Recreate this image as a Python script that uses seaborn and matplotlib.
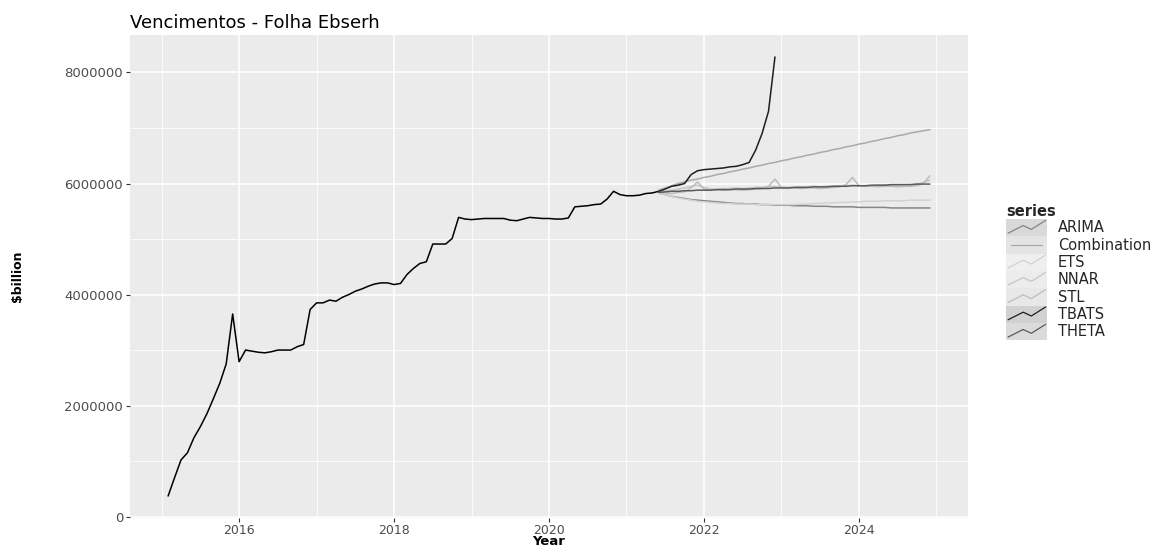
import numpy as np
import pandas as pd
import matplotlib
matplotlib.use("Agg")
import matplotlib.pyplot as plt
import seaborn as sns
from matplotlib.ticker import FixedLocator, FuncFormatter
from matplotlib.legend_handler import HandlerBase
from matplotlib.patches import Rectangle
from matplotlib.lines import Line2D

# Observed series, monthly from Feb 2015 to Jun 2021 (millions)
hist_start = 2015 + 1 / 12
hist_vals = [
    0.37, 0.70, 1.02, 1.15, 1.42, 1.62, 1.85, 2.12, 2.40, 2.75, 3.65,
    2.79, 3.00, 2.98, 2.96, 2.95, 2.97, 3.00, 3.00, 3.00, 3.06, 3.10, 3.73,
    3.85, 3.85, 3.90, 3.88, 3.95, 4.00, 4.06, 4.10, 4.15, 4.19, 4.21, 4.21,
    4.18, 4.20, 4.36, 4.47, 4.56, 4.59, 4.91, 4.91, 4.91, 5.01, 5.39, 5.36,
    5.35, 5.36, 5.37, 5.37, 5.37, 5.37, 5.34, 5.33, 5.36, 5.39, 5.38, 5.37,
    5.37, 5.36, 5.36, 5.38, 5.58, 5.59, 5.60, 5.62, 5.63, 5.72, 5.86, 5.80,
    5.78, 5.78, 5.79, 5.82, 5.83, 5.86,
]

# Forecasts, monthly from Jun 2021 to Dec 2024 (millions)
fc_start = 2021 + 5 / 12
arima = [5.83, 5.80, 5.77, 5.75, 5.73, 5.71, 5.70, 5.69, 5.68, 5.67, 5.66, 5.65,
         5.64, 5.64, 5.63, 5.63, 5.62, 5.62, 5.61, 5.61, 5.61, 5.60, 5.60, 5.60,
         5.59, 5.59, 5.59, 5.58, 5.58, 5.58, 5.58, 5.57, 5.57, 5.57, 5.57, 5.57,
         5.56, 5.56, 5.56, 5.56, 5.56, 5.56, 5.56]
combination = [5.88, 5.92, 5.96, 6.00, 6.03, 6.06, 6.08, 6.11, 6.13, 6.16, 6.18, 6.21,
               6.23, 6.26, 6.28, 6.31, 6.33, 6.36, 6.38, 6.41, 6.43, 6.46, 6.48, 6.51,
               6.53, 6.56, 6.58, 6.61, 6.63, 6.66, 6.68, 6.71, 6.73, 6.76, 6.78, 6.81,
               6.83, 6.86, 6.88, 6.91, 6.93, 6.95, 6.97]
ets = [5.83, 5.80, 5.77, 5.74, 5.72, 5.70, 5.68, 5.67, 5.66, 5.65, 5.64, 5.64,
       5.63, 5.63, 5.63, 5.62, 5.62, 5.62, 5.62, 5.62, 5.62, 5.62, 5.63, 5.63,
       5.64, 5.64, 5.65, 5.65, 5.66, 5.66, 5.67, 5.67, 5.68, 5.68, 5.68, 5.69,
       5.69, 5.69, 5.69, 5.70, 5.70, 5.70, 5.70]
nnar = [5.85, 5.86, 5.88, 5.90, 5.92, 5.95, 5.97, 5.93, 5.90, 5.90, 5.91, 5.91,
        5.92, 5.91, 5.92, 5.93, 5.93, 5.94, 5.95, 5.93, 5.93, 5.93, 5.94, 5.94,
        5.95, 5.94, 5.95, 5.95, 5.96, 5.96, 5.97, 5.96, 5.96, 5.96, 5.97, 5.97,
        5.97, 5.97, 5.98, 5.98, 5.99, 6.02, 6.06]
stl = [5.84, 5.83, 5.82, 5.84, 5.85, 5.92, 6.03, 5.90, 5.89, 5.89, 5.88, 5.89,
       5.89, 5.88, 5.89, 5.90, 5.91, 5.95, 6.08, 5.93, 5.92, 5.92, 5.91, 5.92,
       5.92, 5.91, 5.92, 5.93, 5.94, 5.98, 6.11, 5.96, 5.95, 5.95, 5.94, 5.95,
       5.95, 5.94, 5.95, 5.95, 5.96, 6.00, 6.14]
tbats = [5.86, 5.90, 5.95, 5.97, 6.00, 6.16, 6.23, 6.25, 6.26, 6.27, 6.28, 6.30,
         6.31, 6.34, 6.38, 6.60, 6.90, 7.30, 8.28]
theta = [5.84, 5.85, 5.86, 5.86, 5.87, 5.87, 5.88, 5.88, 5.88, 5.89, 5.89, 5.89,
         5.90, 5.90, 5.90, 5.91, 5.91, 5.91, 5.92, 5.92, 5.92, 5.93, 5.93, 5.93,
         5.94, 5.94, 5.94, 5.95, 5.95, 5.95, 5.96, 5.96, 5.96, 5.97, 5.97, 5.97,
         5.98, 5.98, 5.98, 5.98, 5.99, 5.99, 5.99]

series_names = ["ARIMA", "Combination", "ETS", "NNAR", "STL", "TBATS", "THETA"]
series_vals = [arima, combination, ets, nnar, stl, tbats, theta]
line_colors = ["#858585", "#a9a9a9", "#d2d2d2", "#c6c6c6", "#bdbdbd", "#1e1e1e", "#5a5a5a"]
key_fills = ["#d9d9d9", "#e4e4e4", "#efefef", "#ececec", "#e8e8e8", "#d1d1d1", "#dbdbdb"]

# Build frames
hist = pd.DataFrame({
    "year": hist_start + np.arange(len(hist_vals)) / 12,
    "value": np.array(hist_vals) * 1e6,
})
rows = []
for name, vals in zip(series_names, series_vals):
    for i, v in enumerate(vals):
        rows.append((fc_start + i / 12, v * 1e6, name))
fc = pd.DataFrame(rows, columns=["year", "value", "series"])

# Style
sns.set_theme(style="darkgrid", rc={
    "axes.facecolor": "#EBEBEB",
    "grid.color": "white",
    "figure.facecolor": "white",
})
plt.rcParams["font.family"] = ["DejaVu Sans"]

fig = plt.figure(figsize=(11.74, 5.47), dpi=100)
ax = fig.add_axes([130 / 1174, 1 - 518 / 547, 838 / 1174, 483 / 547])

sns.lineplot(data=hist, x="year", y="value", color="black", lw=1.1, ax=ax, estimator=None)
sns.lineplot(data=fc, x="year", y="value", hue="series", hue_order=series_names,
             palette=dict(zip(series_names, line_colors)), lw=1.1, ax=ax,
             estimator=None, legend=False)

ax.margins(x=0.05, y=0.05)
for s in ax.spines.values():
    s.set_visible(False)

ax.xaxis.set_major_locator(FixedLocator([2016, 2018, 2020, 2022, 2024]))
ax.xaxis.set_minor_locator(FixedLocator([2015, 2017, 2019, 2021, 2023, 2025]))
ax.yaxis.set_major_locator(FixedLocator([0, 2e6, 4e6, 6e6, 8e6]))
ax.yaxis.set_minor_locator(FixedLocator([1e6, 3e6, 5e6, 7e6]))
ax.xaxis.set_major_formatter(FuncFormatter(lambda v, p: f"{int(round(v))}"))
ax.yaxis.set_major_formatter(FuncFormatter(lambda v, p: f"{int(round(v))}"))
ax.grid(which="major", color="white", lw=1.1)
ax.grid(which="minor", color="white", lw=0.55)
ax.tick_params(which="major", length=3, width=0.8, color="#333333",
               labelcolor="#4D4D4D", labelsize=9.5, pad=2,
               bottom=True, left=True)
ax.tick_params(axis="x", which="major", labelsize=9, pad=1.5)
ax.tick_params(which="minor", length=0)

ax.set_xlabel("Year", fontsize=9.5, fontweight="bold", color="black")
ax.set_ylabel(r"\$billion", fontsize=9, fontweight="bold", color="black")
ax.xaxis.set_label_coords(0.5, -0.036)
ax.yaxis.set_label_coords(-0.126, 0.5)
ax.set_title("Vencimentos - Folha Ebserh", loc="left", fontsize=13, pad=5, color="black")


class KeyHandler(HandlerBase):
    def __init__(self, fill, zigzag):
        super().__init__()
        self.fill = fill
        self.zigzag = zigzag

    def create_artists(self, legend, orig_handle, xdescent, ydescent,
                       width, height, fontsize, trans):
        x0, y0 = -xdescent, -ydescent
        rect = Rectangle((x0, y0), width, height, facecolor=self.fill,
                         edgecolor="none", transform=trans)
        if self.zigzag:
            fx = np.array([0.05, 0.42, 0.62, 0.97])
            fy = np.array([0.18, 0.62, 0.40, 0.92])
        else:
            fx = np.array([0.12, 0.88])
            fy = np.array([0.5, 0.5])
        line = Line2D(x0 + fx * width, y0 + fy * height,
                      color=orig_handle.get_color(), lw=0.9, transform=trans)
        return [rect, line]


handles = [Line2D([], [], color=c) for c in line_colors]
hmap = {h: KeyHandler(f, name != "Combination")
        for h, f, name in zip(handles, key_fills, series_names)}
leg = fig.legend(handles, series_names, handler_map=hmap,
                 loc="upper left", bbox_to_anchor=(1006 / 1174, 1 - 204 / 547),
                 frameon=False, fontsize=10.5, handlelength=2.8, handleheight=1.45,
                 labelspacing=0, handletextpad=0.75, borderpad=0, borderaxespad=0,
                 title="series", alignment="left",
                 title_fontproperties={"weight": "bold", "size": 10.5})

fig.savefig("out.png", dpi=100)
